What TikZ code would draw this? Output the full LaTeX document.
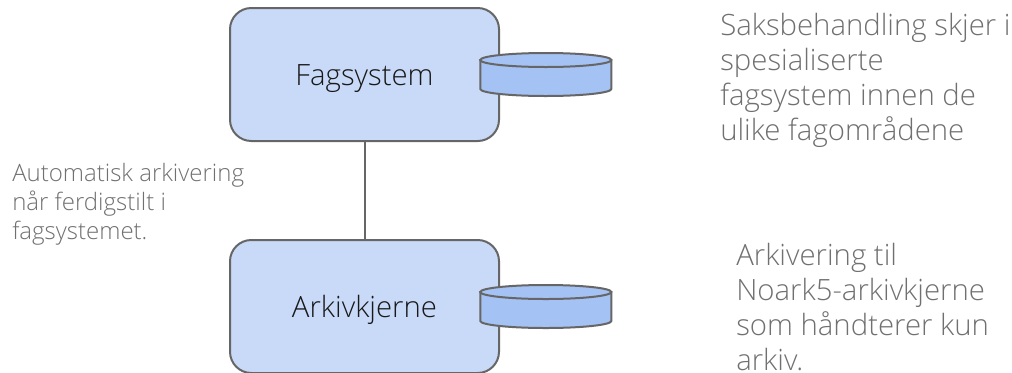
\documentclass[tikz,border=0pt]{standalone}
\usepackage{fontspec}
\setmainfont{Open Sans Light}
\usetikzlibrary{shapes.geometric}
\definecolor{boxblue}{HTML}{C9DAF8}
\definecolor{diskblue}{HTML}{A4C2F4}
\definecolor{linegray}{HTML}{666666}
\definecolor{notegray}{HTML}{707070}
\tikzset{
  system/.style={draw=linegray,line width=1.5pt,fill=boxblue,rounded corners=16pt,minimum width=201.75pt,minimum height=99.75pt,text=black!90,text height=21pt,text depth=5pt,font=\fontsize{22}{24}\selectfont},
  disktop/.style={ellipse,draw=linegray,line width=1.5pt,fill=diskblue,minimum width=98.25pt,minimum height=10.5pt,inner sep=0pt,outer sep=0pt},
  diskbody/.style={draw=linegray,line width=1.5pt,fill=diskblue},
  note/.style={align=left,anchor=north west,inner sep=0pt,text=notegray,font=\fontsize{22}{26.3}\selectfont},
  smallnote/.style={align=left,anchor=north west,inner sep=0pt,text=notegray,font=\fontsize{18}{21.6}\selectfont},
}
\begin{document}
\begin{tikzpicture}[x=0.75pt,y=-0.75pt]
\useasboundingbox (0,0) rectangle (1012,372);
\node[system] (fagsystem) at (364.5,74.5) {Fagsystem};
\node[system] (arkivkjerne) at (364.5,306.5) {Arkivkjerne};
\draw[draw=linegray,line width=1.5pt] (fagsystem) -- (arkivkjerne);
\coordinate (fagtopc) at (545.8,60);
\coordinate (arkivtopc) at (545.8,292);
\path[diskbody] (fagtopc) ++(-65.5,0) -- ++(0,29) arc[start angle=180,end angle=360,x radius=49.13pt,y radius=5.25pt] -- ++(0,-29) -- cycle;
\path[diskbody] (arkivtopc) ++(-65.5,0) -- ++(0,29) arc[start angle=180,end angle=360,x radius=49.13pt,y radius=5.25pt] -- ++(0,-29) -- cycle;
\node[disktop] (fagdisk) at (fagtopc) {};
\node[disktop] (arkivdisk) at (arkivtopc) {};
\node[note] (fagnote) at (720,12.5) {Saksbehandling skjer i\\spesialiserte\\fagsystem innen de\\ulike fagområdene};
\node[note] (arkivnote) at (736,243) {Arkivering til\\Noark5-arkivkjerne\\som håndterer kun\\arkiv.};
\node[smallnote] (autonote) at (12,163) {Automatisk arkivering\\når ferdigstilt i\\fagsystemet.};
\end{tikzpicture}
\end{document}
